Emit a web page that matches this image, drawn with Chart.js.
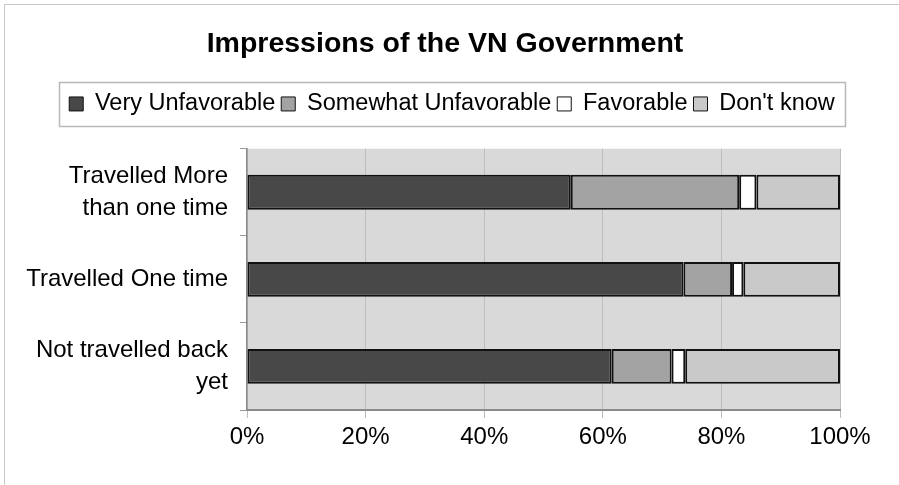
<!DOCTYPE html>
<html>
<head>
<meta charset="utf-8">
<script src="https://cdn.jsdelivr.net/npm/chart.js@4.4.0/dist/chart.umd.min.js"></script>
<style>
  html, body { margin: 0; padding: 0; background: #fff; }
  #wrap { position: relative; width: 899px; height: 485px; overflow: hidden; }
  #frame { position: absolute; left: 4px; top: 4px; width: 900px; height: 490px; border: 1px solid #c8c8c8; box-sizing: border-box; }
  canvas { position: absolute; left: 0; top: 0; }
</style>
</head>
<body>
<div id="wrap">
  <div id="frame"></div>
  <canvas id="chart" width="899" height="485"></canvas>
</div>
<script>
const categories = [['Travelled More', 'than one time'], 'Travelled One time', ['Not travelled back', 'yet']];
const seriesNames = ['Very Unfavorable', 'Somewhat Unfavorable', 'Favorable', "Don't know"];
const veryUnfavorable = [54.6, 73.6, 61.5];
const somewhatUnfavorable = [28.4, 8.2, 10.1];
const favorable = [2.9, 1.9, 2.3];
const dontKnow = [14.1, 16.3, 26.1];
const seriesColors = ['#484848', '#a3a3a3', '#ffffff', '#c9c9c9'];
const tickLabels = ['0%', '20%', '40%', '60%', '80%', '100%'];

const allSeries = [veryUnfavorable, somewhatUnfavorable, favorable, dontKnow];
const fontFamily = '"Liberation Sans", Arial, sans-serif';

// grey plot background, like the old spreadsheet chart
const plotBackground = {
    id: 'plotBackground',
    beforeDraw(chart) {
        const a = chart.chartArea;
        const c = chart.ctx;
        c.save();
        c.fillStyle = '#d9d9d9';
        c.fillRect(a.left, a.top, a.right - a.left, a.bottom - a.top);
        c.restore();
    }
};

// extra gap under the legend, then title and legend nudged right
const shiftHeader = {
    id: 'shiftHeader',
    afterInit(chart) {
        const legend = chart.legend;
        const fit = legend.fit.bind(legend);
        legend.fit = function () {
            fit();
            this.height += 23;
        };
    },
    afterLayout(chart) {
        chart.titleBlock.left += 25;
        chart.titleBlock.right += 25;
        chart.legend.left += 32;
        chart.legend.right += 32;
    }
};

// box round the legend items
const legendFrame = {
    id: 'legendFrame',
    afterDraw(chart) {
        const boxes = chart.legend.legendHitBoxes;
        if (!boxes || !boxes.length) return;
        let left = Infinity, right = -Infinity, top = Infinity, bottom = -Infinity;
        boxes.forEach(b => {
            left = Math.min(left, b.left);
            right = Math.max(right, b.left + b.width);
            top = Math.min(top, b.top);
            bottom = Math.max(bottom, b.top + b.height);
        });
        const c = chart.ctx;
        c.save();
        c.strokeStyle = '#b8b8b8';
        c.lineWidth = 1.5;
        c.strokeRect(Math.round(left - 10) + 0.5, Math.round(top - 10) + 0.5, Math.round(right - left + 20), Math.round(bottom - top + 20));
        c.restore();
    }
};

new Chart(document.getElementById('chart'), {
    type: 'bar',
    data: {
        labels: categories,
        datasets: allSeries.map((vals, i) => ({
            label: seriesNames[i],
            data: vals,
            backgroundColor: seriesColors[i],
            borderColor: '#111',
            borderWidth: 2,
            borderSkipped: false,
            categoryPercentage: 0.8,
            barPercentage: 0.5
        }))
    },
    options: {
        indexAxis: 'y',
        responsive: false,
        animation: false,
        devicePixelRatio: 1,
        layout: { padding: { left: 0, right: 59, top: 0, bottom: 0 } },
        plugins: {
            tooltip: { enabled: false },
            title: {
                display: true,
                text: 'Impressions of the VN Government',
                color: '#000',
                font: { family: fontFamily, size: 28.5, weight: 'bold' },
                padding: { top: 27, bottom: 25 }
            },
            legend: {
                position: 'top',
                labels: {
                    color: '#000',
                    font: { family: fontFamily, size: 23.5 },
                    boxWidth: 14,
                    boxHeight: 14,
                    padding: 6,
                    generateLabels(chart) {
                        return chart.data.datasets.map((ds, i) => ({
                            text: ds.label,
                            fillStyle: ds.backgroundColor,
                            strokeStyle: '#111',
                            lineWidth: 1,
                            datasetIndex: i,
                            fontColor: '#000'
                        }));
                    }
                }
            }
        },
        scales: {
            x: {
                stacked: true,
                min: 0,
                max: 100,
                afterFit(scale) { scale.height = 75; },
                ticks: {
                    stepSize: 20,
                    color: '#000',
                    font: { family: fontFamily, size: 24 },
                    padding: 5,
                    callback: (v, i) => tickLabels[i]
                },
                grid: { color: '#bdbdbd', tickLength: 8, tickColor: '#bdbdbd' },
                border: { display: true, color: '#8a8a8a', width: 2 }
            },
            y: {
                stacked: true,
                afterFit(scale) { scale.width = 247; },
                ticks: {
                    color: '#000',
                    font: { family: fontFamily, size: 24, lineHeight: 1.33 },
                    padding: 12
                },
                grid: { offset: true, drawOnChartArea: false, tickLength: 7, color: '#9a9a9a' },
                border: { display: true, color: '#8a8a8a', width: 1.5 }
            }
        }
    },
    plugins: [plotBackground, shiftHeader, legendFrame]
});
</script>
</body>
</html>
